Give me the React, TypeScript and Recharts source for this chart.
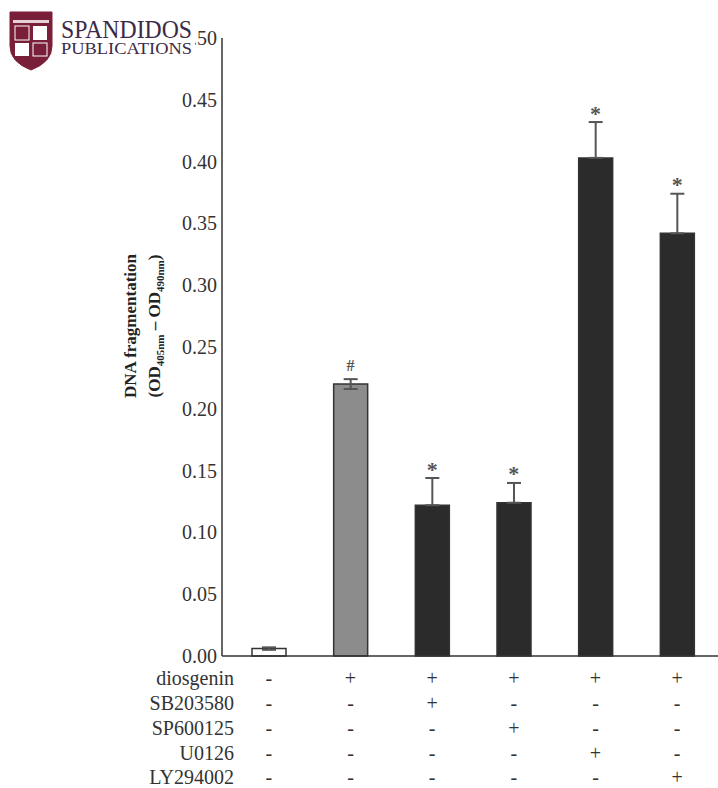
import React from 'react'
import { ComposedChart, Bar, Cell, ErrorBar, Scatter, XAxis, YAxis } from 'recharts'

const groups = ['control', 'diosgenin', 'SB203580', 'SP600125', 'U0126', 'LY294002']
const means = [0.006, 0.22, 0.122, 0.124, 0.403, 0.342]
const upperErrors = [0.001, 0.004, 0.022, 0.016, 0.029, 0.032]
const lowerErrors = [0.001, 0.004, 0, 0, 0, 0]
const marks = ['', '#', '*', '*', '*', '*']
const fills = ['#ffffff', '#8c8c8c', '#2b2b2b', '#2b2b2b', '#2b2b2b', '#2b2b2b']

const rowNames = ['diosgenin', 'SB203580', 'SP600125', 'U0126', 'LY294002']
const diosgenin = ['-', '+', '+', '+', '+', '+']
const sb203580 = ['-', '-', '+', '-', '-', '-']
const sp600125 = ['-', '-', '-', '+', '-', '-']
const u0126 = ['-', '-', '-', '-', '+', '-']
const ly294002 = ['-', '-', '-', '-', '-', '+']
const rows = [diosgenin, sb203580, sp600125, u0126, ly294002]

const yTicks = [0, 0.05, 0.1, 0.15, 0.2, 0.25, 0.3, 0.35, 0.4, 0.45, 0.5]

const data = groups.map((g, i) => ({
    name: g,
    value: means[i],
    err: [lowerErrors[i], upperErrors[i]],
    top: marks[i] ? means[i] + upperErrors[i] : null,
    mark: marks[i],
}))

const FONT = '"Liberation Serif", "DejaVu Serif", serif'
const INK = '#333'
const AXIS_Y = 656
const rowY = [678, 703, 728, 753, 777]

function TableTick(props: any) {
    const { x, payload } = props
    const i = payload.index
    return (
        <g>
            {rows.map((r, k) => (
                <text key={k} x={x} y={rowY[k]} textAnchor="middle" dominantBaseline="central"
                    fontFamily={FONT} fontSize={20} fill={INK}>
                    {r[i]}
                </text>
            ))}
        </g>
    )
}

function ValueTick(props: any) {
    const { x, y, payload } = props
    return (
        <text x={x} y={y} textAnchor="end" dominantBaseline="central"
            fontFamily={FONT} fontSize={20} fill={INK}>
            {Number(payload.value).toFixed(2)}
        </text>
    )
}

function MarkShape(props: any) {
    const { cx, cy, payload } = props
    if (!payload || !payload.mark) return null
    const isHash = payload.mark === '#'
    return (
        <text x={cx} y={cy - (isHash ? 14 : 9)} textAnchor="middle" dominantBaseline="central"
            fontFamily={FONT} fontSize={isHash ? 16 : 22} fontWeight="bold" fill="#555">
            {payload.mark}
        </text>
    )
}

function Logo() {
    return (
        <g>
            <rect x={0} y={0} width={195} height={72} fill="#fff" />
            <path d="M10,12 L52,12 L52,46 Q52,62 31,70 Q10,62 10,46 Z" fill="#7a1f3a" stroke="#7a1f3a" />
            <rect x={13} y={20} width={36} height={3} fill="#fff" opacity={0.8} />
            <rect x={15} y={26} width={14} height={14} fill="#7a1f3a" stroke="#fff" strokeWidth={1} />
            <rect x={33} y={26} width={14} height={14} fill="#fff" />
            <rect x={15} y={43} width={14} height={13} fill="#fff" />
            <rect x={33} y={43} width={14} height={13} fill="#7a1f3a" stroke="#fff" strokeWidth={1} />
            <text x={61} y={38} fontFamily={FONT} fontSize={25} fill="#3b2a48" textLength={131}
                lengthAdjust="spacingAndGlyphs">SPANDIDOS</text>
            <text x={61} y={54} fontFamily={FONT} fontSize={17} fill="#3b2a48" textLength={131}
                lengthAdjust="spacingAndGlyphs">PUBLICATIONS</text>
        </g>
    )
}

function Overlay() {
    return (
        <svg width={718} height={788} style={{ position: 'absolute', left: 0, top: 0, pointerEvents: 'none' }}>
            <Logo />
            <g transform="translate(136, 326) rotate(-90)">
                <text x={0} y={0} textAnchor="middle" fontFamily={FONT} fontSize={17} fontWeight="bold" fill="#222">
                    DNA fragmentation
                </text>
                <text x={0} y={24} textAnchor="middle" fontFamily={FONT} fontSize={17} fontWeight="bold" fill="#222">
                    (OD<tspan fontSize={11} dy={4}>405nm</tspan>
                    <tspan dy={-4}> – OD</tspan>
                    <tspan fontSize={11} dy={4}>490nm</tspan>
                    <tspan dy={-4}>)</tspan>
                </text>
            </g>
            {rowNames.map((n, k) => (
                <text key={n} x={234} y={rowY[k]} textAnchor="end" dominantBaseline="central"
                    fontFamily={FONT} fontSize={20} fill={INK}>
                    {n}
                </text>
            ))}
        </svg>
    )
}

export default function App() {
    return (
        <div style={{ position: 'absolute', left: 0, top: 0, width: 718, height: 788, background: '#fff' }}>
            <ComposedChart width={718} height={788} data={data}
                margin={{ top: 38, right: 0, bottom: 0, left: 0 }} barCategoryGap={0}>
                <XAxis dataKey="name" type="category" height={788 - AXIS_Y} padding={{ left: 6, right: 0 }}
                    axisLine={{ stroke: INK, strokeWidth: 1.5 }} tickLine={false}
                    tick={<TableTick />} interval={0} />
                <YAxis type="number" domain={[0, 0.5]} ticks={yTicks} width={222}
                    axisLine={{ stroke: INK, strokeWidth: 1.5 }} tickLine={false} tickSize={0} tickMargin={5}
                    tick={<ValueTick />} />
                <Bar dataKey="value" barSize={34} isAnimationActive={false} stroke="#333" strokeWidth={1.5}>
                    {data.map((d, i) => (
                        <Cell key={i} fill={fills[i]} />
                    ))}
                    <ErrorBar dataKey="err" width={7} stroke="#555" strokeWidth={2} direction="y" />
                </Bar>
                <Scatter dataKey="top" isAnimationActive={false} shape={<MarkShape />} />
            </ComposedChart>
            <Overlay />
        </div>
    )
}
